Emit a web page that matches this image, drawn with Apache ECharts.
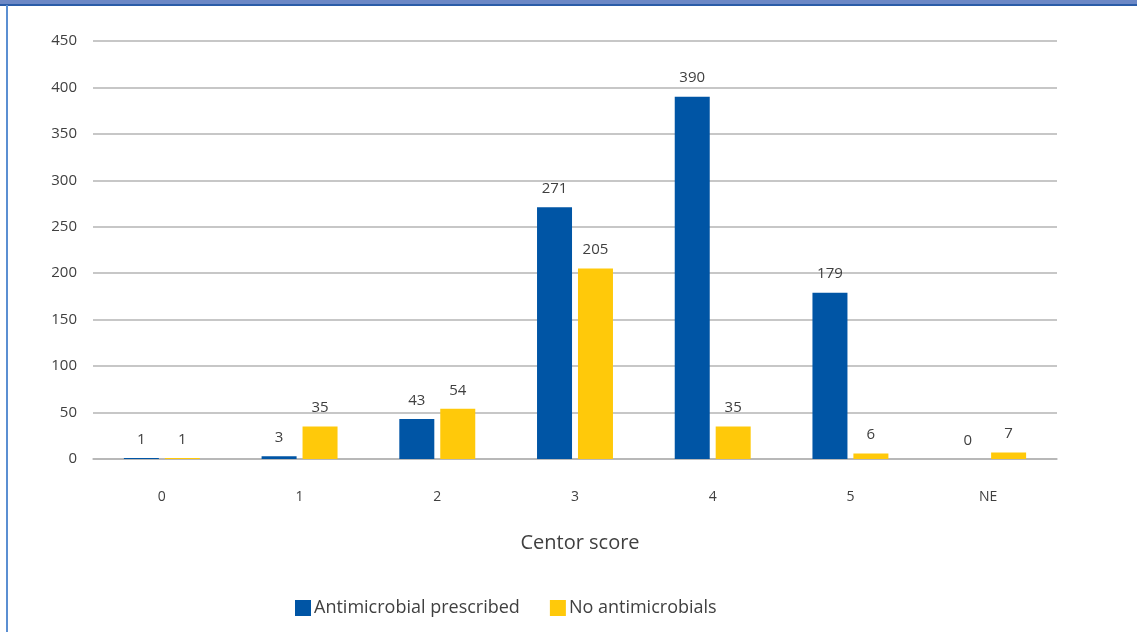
<!DOCTYPE html>
<html>
<head>
<meta charset="utf-8">
<script src="https://cdn.jsdelivr.net/npm/echarts@6/dist/echarts.min.js"></script>
<style>
  html, body { margin: 0; padding: 0; background: #ffffff; }
  #chart { width: 1137px; height: 632px; }
</style>
</head>
<body>
<div id="chart"></div>
<script>
// Centor score categories and patient counts per group
const categories = ['0', '1', '2', '3', '4', '5', 'NE'];
const antimicrobialPrescribed = [1, 3, 43, 271, 390, 179, 0];
const noAntimicrobials = [1, 35, 54, 205, 35, 6, 7];
const seriesNames = ['Antimicrobial prescribed', 'No antimicrobials'];
const axisTitle = 'Centor score';

const BLUE = '#0055a5';
const YELLOW = '#ffc90a';
const TEXT = '#404040';
const GRID = '#b4b4b4';
const FONT = '"Open Sans", "Noto Sans", sans-serif';

const chart = echarts.init(document.getElementById('chart'), null, { renderer: 'canvas' });

const labelStyle = {
  show: true,
  position: 'top',
  distance: 11,
  color: TEXT,
  fontSize: 15,
  fontFamily: FONT
};

chart.setOption({
  backgroundColor: '#ffffff',
  animation: false,
  textStyle: { fontFamily: FONT },
  graphic: [
    // frame: top band and left rule
    { type: 'rect', shape: { x: 0, y: 0, width: 1137, height: 5 }, style: { fill: '#6c88c6' }, silent: true },
    { type: 'rect', shape: { x: 0, y: 4, width: 1137, height: 2 }, style: { fill: '#2b5ca8' }, silent: true },
    { type: 'rect', shape: { x: 6, y: 5, width: 2, height: 627 }, style: { fill: '#5b8fd2' }, silent: true }
  ],
  grid: { left: 93, right: 80, top: 41, bottom: 173, containLabel: false },
  legend: {
    left: 290,
    top: 594,
    itemWidth: 16,
    itemHeight: 16,
    itemGap: 30,
    icon: 'rect',
    textStyle: { color: TEXT, fontSize: 18, fontFamily: FONT, padding: [0, 0, 0, -2] },
    data: seriesNames
  },
  xAxis: {
    type: 'category',
    data: categories,
    name: axisTitle,
    nameLocation: 'middle',
    nameGap: 74,
    nameTextStyle: { color: TEXT, fontSize: 20, fontFamily: FONT, verticalAlign: 'top', padding: [0, 0, 0, 10] },
    axisLine: { show: true, lineStyle: { color: GRID, width: 1.5 } },
    axisTick: { show: false },
    axisLabel: { color: TEXT, fontSize: 14, margin: 31, fontFamily: FONT }
  },
  yAxis: {
    type: 'value',
    min: 0,
    max: 450,
    interval: 50,
    axisLine: { show: false },
    axisTick: { show: false },
    axisLabel: { color: TEXT, fontSize: 15, margin: 16, fontFamily: FONT },
    splitLine: { lineStyle: { color: GRID, width: 1.5 } }
  },
  series: [
    {
      name: seriesNames[0],
      type: 'bar',
      data: antimicrobialPrescribed,
      barWidth: 35,
      barGap: '17%',
      itemStyle: { color: BLUE },
      label: labelStyle
    },
    {
      name: seriesNames[1],
      type: 'bar',
      data: noAntimicrobials,
      barWidth: 35,
      itemStyle: { color: YELLOW },
      label: labelStyle
    }
  ]
});
</script>
</body>
</html>
